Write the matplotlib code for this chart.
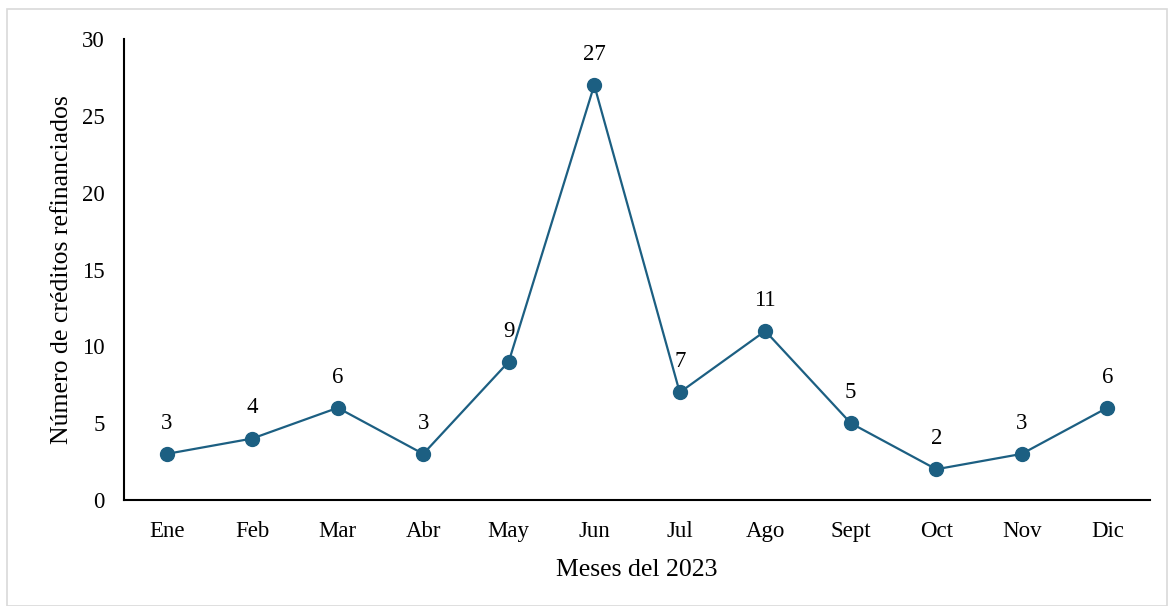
import matplotlib
matplotlib.use("Agg")
import matplotlib.pyplot as plt
from matplotlib.patches import Rectangle

months = ["Ene", "Feb", "Mar", "Abr", "May", "Jun", "Jul", "Ago", "Sept", "Oct", "Nov", "Dic"]
values = [3, 4, 6, 3, 9, 27, 7, 11, 5, 2, 3, 6]
yticks = [0, 5, 10, 15, 20, 25, 30]

plt.rcParams['font.family'] = ['Liberation Serif', 'DejaVu Serif']

W, H = 1169, 606
fig = plt.figure(figsize=(W/100, H/100), dpi=100)
ax = fig.add_axes([124/W, 1 - 500/H, (1150-124)/W, (500-39)/H])

color = "#1c5f82"
x = list(range(len(months)))
ax.plot(x, values, color=color, lw=1.6, marker='o', markersize=10, zorder=3)
for xi, v in zip(x, values):
    ax.annotate(str(v), (xi, v), xytext=(0, 22), textcoords='offset points',
                ha='center', va='center', fontsize=16.5, color='black')

ax.set_xlim(-0.5, len(months) - 0.5)
ax.set_ylim(0, 30)
ax.set_yticks(yticks)
ax.set_xticks(x)
ax.set_xticklabels(months)
ax.tick_params(axis='both', length=0, labelsize=16.5)
ax.tick_params(axis='y', pad=14)
ax.tick_params(axis='x', pad=15)
for s in ['top', 'right']:
    ax.spines[s].set_visible(False)
for s in ['left', 'bottom']:
    ax.spines[s].set_linewidth(1.5)
    ax.spines[s].set_color('black')

ax.set_xlabel("Meses del 2023", fontsize=18.5, labelpad=12)
ax.set_ylabel("Número de créditos refinanciados", fontsize=18.5, labelpad=6)

fig.patches.append(Rectangle((7/W, 0), (1167-7)/W, 1 - 9/H, transform=fig.transFigure,
                             fill=False, edgecolor='#d9d9d9', lw=1.2))

fig.savefig("out.png", dpi=100)
